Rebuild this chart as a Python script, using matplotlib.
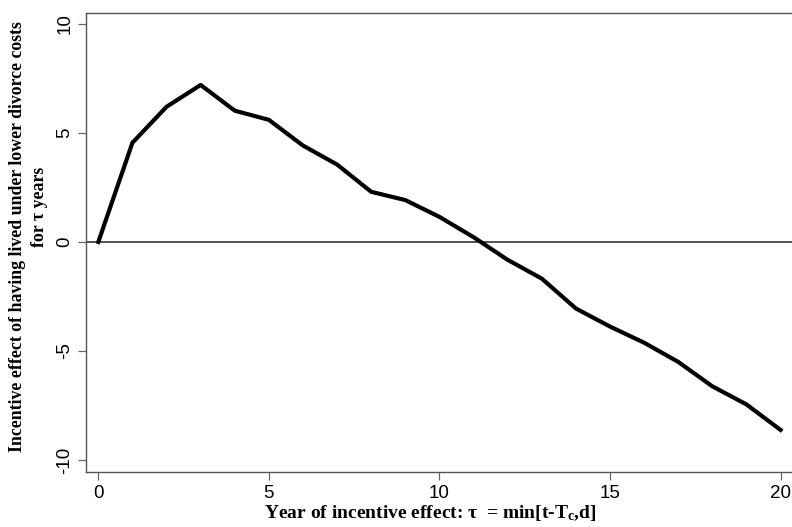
import matplotlib
matplotlib.use("Agg")
import matplotlib.pyplot as plt

years = [0, 1, 2, 3, 4, 5, 6, 7, 8, 9, 10, 11, 12, 13, 14, 15, 16, 17, 18, 19, 20]
effect = [0.0, 4.55, 6.2, 7.2, 6.02, 5.6, 4.42, 3.55, 2.3, 1.92, 1.15, 0.22, -0.82,
          -1.68, -3.05, -3.88, -4.62, -5.5, -6.62, -7.45, -8.62]
xticks = [0, 5, 10, 15, 20]
yticks = [-10, -5, 0, 5, 10]
ylabel_lines = ["Incentive effect of having lived under lower divorce costs", "for τ years"]

plt.rcParams['mathtext.fontset'] = 'custom'
plt.rcParams['mathtext.rm'] = 'Liberation Serif:bold'
plt.rcParams['mathtext.it'] = 'Liberation Serif:bold'
plt.rcParams['mathtext.bf'] = 'Liberation Serif:bold'

fig = plt.figure(figsize=(7.92, 5.27), dpi=100)
ax = fig.add_axes([85.7/792, 1-472/527, (801-85.7)/792, (472-13)/527])

ax.axhline(0, color='#444444', lw=1.3, zorder=1)
ax.plot(years, effect, color='black', lw=3.0, solid_joinstyle='round', zorder=2)

ax.set_xlim(-0.37, 20.6)
ax.set_ylim(-10.55, 10.5)
ax.set_xticks(xticks)
ax.set_yticks(yticks)
ax.set_xticklabels([str(t) for t in xticks], family='Liberation Sans', fontsize=13.5)
ax.set_yticklabels([str(t) for t in yticks], family='Liberation Sans', fontsize=13.5,
                   rotation=90, va='center')
ax.tick_params(direction='out', length=6, width=0.9, color='#666666', pad=3)
for s in ax.spines.values():
    s.set_color('#555555')
    s.set_linewidth(1.0)

fig.text(430/792, 1-518/527, "Year of incentive effect: τ  = min[t-T$_{c}$,d]",
         ha='center', va='baseline', family='Liberation Serif', weight='bold', fontsize=14)
fig.text(18/792, 1-237/527, ylabel_lines[0], ha='center', va='center', rotation=90,
         family='Liberation Serif', weight='bold', fontsize=12.8)
fig.text(39/792, 1-207/527, ylabel_lines[1], ha='center', va='center', rotation=90,
         family='Liberation Serif', weight='bold', fontsize=12.8)

fig.savefig("out.png", dpi=100)
